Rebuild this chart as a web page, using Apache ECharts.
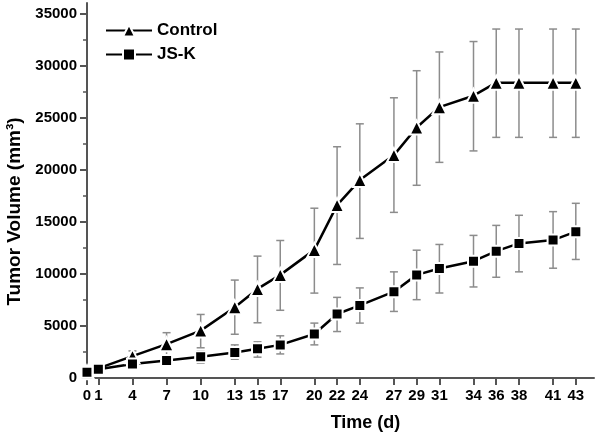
<!DOCTYPE html>
<html>
<head>
<meta charset="utf-8">
<script src="https://cdn.jsdelivr.net/npm/echarts@6/dist/echarts.min.js"></script>
<style>
  html, body { margin: 0; padding: 0; background: #fff; }
  #chart { width: 600px; height: 441px; }
</style>
</head>
<body>
<div id="chart"></div>
<script>
// days of measurement (also the x tick labels)
var days = [0, 1, 4, 7, 10, 13, 15, 17, 20, 22, 24, 27, 29, 31, 34, 36, 38, 41, 43]

var controlMean = [560, 930, 2100, 3250, 4550, 6800, 8550, 9900, 12300, 16600, 19000, 21400, 24050, 26000, 27100, 28350, 28350, 28350, 28350]
var controlHigh = [700, 1150, 2600, 4350, 6100, 9400, 11700, 13200, 16300, 22200, 24400, 26900, 29500, 31300, 32300, 33500, 33500, 33500, 33500]
var controlLow = [420, 710, 1600, 2150, 2900, 4200, 5300, 6500, 8150, 10900, 13400, 15900, 18500, 20700, 21800, 23100, 23100, 23100, 23100]

var jskMean = [550, 840, 1350, 1670, 2050, 2440, 2800, 3180, 4220, 6140, 6970, 8290, 9900, 10510, 11210, 12180, 12920, 13240, 14050]
var jskHigh = [650, 1000, 1850, 2200, 2600, 3180, 3470, 4050, 5270, 7740, 8650, 10190, 12270, 12820, 13690, 14650, 15620, 15970, 16770]
var jskLow = [450, 680, 850, 1150, 1420, 1800, 2000, 2310, 3180, 4460, 5270, 6390, 7520, 8160, 8740, 9670, 10190, 10540, 11380]

var yTicks = [0, 5000, 10000, 15000, 20000, 25000, 30000, 35000]
var yMinorTicks = [2500, 7500, 12500, 17500, 22500, 27500, 32500]

var FONT = '"Liberation Sans", Arial, sans-serif'

function pairs(xs, ys) {
  return xs.map(function (x, i) { return [x, ys[i]] })
}

function errData(lo, hi) {
  return days.map(function (d, i) { return [d, lo[i], hi[i]] })
}

// vertical error bar with caps
function renderErr(params, api) {
  var x = api.value(0)
  var top = api.coord([x, api.value(2)])
  var bot = api.coord([x, api.value(1)])
  var w = 4
  var style = { stroke: '#8c8c8c', lineWidth: 1.5 }
  return {
    type: 'group',
    children: [
      { type: 'line', shape: { x1: top[0], y1: top[1], x2: bot[0], y2: bot[1] }, style: style },
      { type: 'line', shape: { x1: top[0] - w, y1: top[1], x2: top[0] + w, y2: top[1] }, style: style },
      { type: 'line', shape: { x1: bot[0] - w, y1: bot[1], x2: bot[0] + w, y2: bot[1] }, style: style }
    ]
  }
}

var chart = echarts.init(document.getElementById('chart'))

chart.setOption({
  animation: false,
  grid: {
    left: 87,
    right: 6,
    top: 3,
    bottom: 63,
    containLabel: false,
    outerBoundsMode: 'none'
  },
  legend: {
    orient: 'vertical',
    left: 100,
    top: 17,
    itemWidth: 46,
    itemHeight: 15,
    itemGap: 7,
    data: ['Control', 'JS-K'],
    textStyle: { fontFamily: FONT, fontWeight: 'bold', fontSize: 17, color: '#000' }
  },
  xAxis: {
    type: 'value',
    min: 0,
    max: 44.6,
    name: 'Time (d)',
    nameLocation: 'middle',
    nameGap: 36,
    nameTextStyle: { fontFamily: FONT, fontWeight: 'bold', fontSize: 18, color: '#000', padding: [0, 0, 0, 50] },
    splitLine: { show: false },
    axisLine: { onZero: false, lineStyle: { color: '#555', width: 2 } },
    axisTick: { customValues: days, length: 7, lineStyle: { color: '#555', width: 2 } },
    axisLabel: {
      customValues: days,
      margin: 10,
      fontFamily: FONT,
      fontWeight: 'bold',
      fontSize: 15,
      color: '#000'
    }
  },
  yAxis: [
    {
      type: 'value',
      min: 0,
      max: 36000,
      name: 'Tumor Volume (mm³)',
      nameLocation: 'middle',
      nameGap: 58,
      nameTextStyle: { fontFamily: FONT, fontWeight: 'bold', fontSize: 19, color: '#000', padding: [0, 42, 0, 0] },
      splitLine: { show: false },
      axisLine: { lineStyle: { color: '#555', width: 2 } },
      axisTick: { customValues: yTicks, length: 7, lineStyle: { color: '#555', width: 2 } },
      axisLabel: {
        customValues: yTicks,
        margin: 10,
        fontFamily: FONT,
        fontWeight: 'bold',
        fontSize: 15,
        color: '#000',
        formatter: function (v) { return String(v) }
      }
    },
    {
      // minor ticks only
      type: 'value',
      position: 'left',
      min: 0,
      max: 36000,
      splitLine: { show: false },
      axisLine: { show: false },
      axisTick: { customValues: yMinorTicks, length: 4, lineStyle: { color: '#555', width: 1.5 } },
      axisLabel: { show: false }
    }
  ],
  series: [
    {
      type: 'custom',
      name: 'ctrlErr',
      renderItem: renderErr,
      data: errData(controlLow, controlHigh),
      z: 1,
      silent: true
    },
    {
      type: 'custom',
      name: 'jskErr',
      renderItem: renderErr,
      data: errData(jskLow, jskHigh),
      z: 1,
      silent: true
    },
    {
      name: 'Control',
      type: 'line',
      data: pairs(days, controlMean),
      symbol: 'triangle',
      symbolSize: 14,
      showAllSymbol: true,
      clip: false,
      lineStyle: { color: '#000', width: 2.5 },
      itemStyle: { color: '#000', borderColor: '#fff', borderWidth: 2 },
      z: 3
    },
    {
      name: 'JS-K',
      type: 'line',
      data: pairs(days, jskMean),
      symbol: 'rect',
      symbolSize: 11,
      showAllSymbol: true,
      clip: false,
      lineStyle: { color: '#000', width: 2.5 },
      itemStyle: { color: '#000', borderColor: '#fff', borderWidth: 2 },
      z: 3
    }
  ]
})
</script>
</body>
</html>
